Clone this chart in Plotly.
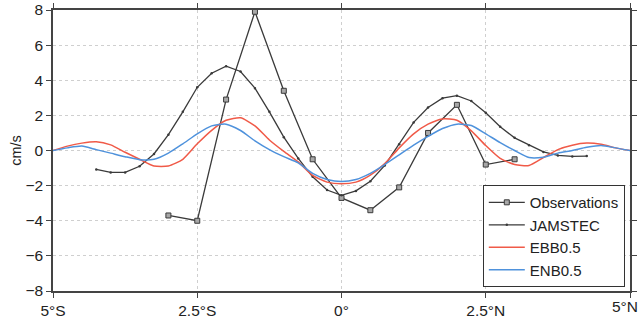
import plotly.graph_objects as go

# ---- data ----
obs_x = [-3.0, -2.5, -2.0, -1.5, -1.0, -0.5, 0.0, 0.5, 1.0, 1.5, 2.0, 2.5, 3.0]
obs_y = [-3.7, -4.0, 2.9, 7.9, 3.4, -0.5, -2.7, -3.4, -2.1, 1.0, 2.6, -0.8, -0.5]

jam_x = [-4.25, -4.0, -3.75, -3.5, -3.25, -3.0, -2.75, -2.5, -2.25, -2.0, -1.75, -1.5,
         -1.25, -1.0, -0.75, -0.5, -0.25, 0.0, 0.25, 0.5, 0.75, 1.0, 1.25, 1.5, 1.75,
         2.0, 2.25, 2.5, 2.75, 3.0, 3.25, 3.5, 3.75, 4.0, 4.25]
jam_y = [-1.08, -1.25, -1.25, -0.9, -0.2, 0.9, 2.2, 3.6, 4.4, 4.8, 4.5, 3.55,
         2.2, 0.76, -0.45, -1.5, -2.25, -2.55, -2.3, -1.75, -0.85, 0.35, 1.6, 2.45, 2.98,
         3.12, 2.82, 2.15, 1.35, 0.72, 0.3, -0.08, -0.28, -0.34, -0.32]

mod_x = [-5.0, -4.75, -4.5, -4.25, -4.0, -3.75, -3.5, -3.25, -3.0, -2.75, -2.5, -2.25,
         -2.0, -1.75, -1.5, -1.25, -1.0, -0.75, -0.5, -0.25, 0.0, 0.25, 0.5, 0.75, 1.0,
         1.25, 1.5, 1.75, 2.0, 2.25, 2.5, 2.75, 3.0, 3.25, 3.5, 3.75, 4.0, 4.25, 4.5,
         4.75, 5.0]
ebb_y = [0.0, 0.25, 0.42, 0.5, 0.32, -0.1, -0.5, -0.88, -0.88, -0.5, 0.38, 1.15,
         1.72, 1.86, 1.4, 0.6, -0.05, -0.65, -1.42, -1.8, -1.9, -1.8, -1.4, -0.75, 0.15,
         0.95, 1.5, 1.8, 1.72, 1.12, 0.28, -0.45, -0.8, -0.85, -0.4, 0.05, 0.3, 0.42, 0.35,
         0.15, 0.0]
enb_y = [0.0, 0.15, 0.25, 0.05, -0.15, -0.35, -0.52, -0.5, -0.15, 0.38, 0.95, 1.4,
         1.5, 1.14, 0.55, 0.05, -0.35, -0.7, -1.3, -1.65, -1.77, -1.65, -1.3, -0.8, -0.25,
         0.3, 0.8, 1.25, 1.5, 1.42, 0.95, 0.45, 0.0, -0.4, -0.38, -0.15, 0.0, 0.18, 0.28,
         0.15, 0.0]

x_ticks = [-5, -2.5, 0, 2.5, 5]
x_labels = ["5°S", "2.5°S", "0°", "2.5°N", "5°N"]
y_ticks = [-8, -6, -4, -2, 0, 2, 4, 6, 8]

font = "Liberation Sans, Arial, sans-serif"
dark = "#3a3a3a"
tick_size = 15.5

fig = go.Figure()
fig.add_trace(go.Scatter(x=obs_x, y=obs_y, name="Observations", mode="lines+markers",
                         line=dict(color=dark, width=1.3),
                         marker=dict(symbol="square", size=5, color="#a8a8a8",
                                     line=dict(color=dark, width=1))))
fig.add_trace(go.Scatter(x=jam_x, y=jam_y, name="JAMSTEC", mode="lines+markers",
                         line=dict(color=dark, width=1.3),
                         marker=dict(size=2.5, color=dark)))
fig.add_trace(go.Scatter(x=mod_x, y=ebb_y, name="EBB0.5", mode="lines",
                         line=dict(color="#f05a48", width=1.5, shape="spline", smoothing=0.6)))
fig.add_trace(go.Scatter(x=mod_x, y=enb_y, name="ENB0.5", mode="lines",
                         line=dict(color="#4f92dc", width=1.5, shape="spline", smoothing=0.6)))

axis_common = dict(showline=True, linecolor="#444", linewidth=1.5, mirror="ticks",
                   ticks="outside", ticklen=5, tickcolor="#444", tickwidth=1,
                   showgrid=True, gridcolor="#cfcfcf", griddash="dot", gridwidth=1,
                   zeroline=False, automargin=False,
                   tickfont=dict(family=font, size=tick_size, color="#222"))

# last x label is drawn as an annotation nudged left so it stays inside the page
shown_labels = x_labels[:-1] + [""]
fig.update_xaxes(range=[-5, 5], tickvals=x_ticks, ticktext=shown_labels, **axis_common)
fig.update_yaxes(range=[-8, 8], tickvals=y_ticks,
                 title=dict(text="cm/s", font=dict(family=font, size=14.5, color="#222"),
                            standoff=0),
                 **axis_common)
fig.add_annotation(x=x_ticks[-1], y=0, xref="x", yref="paper", text=x_labels[-1],
                   showarrow=False, xanchor="right", yanchor="top", xshift=10, yshift=-5,
                   font=dict(family=font, size=tick_size, color="#222"))

fig.update_layout(
    width=641, height=322,
    margin=dict(l=53, r=11, t=10, b=31),
    plot_bgcolor="white", paper_bgcolor="white",
    showlegend=True,
    legend=dict(x=0.991, y=0.014, xanchor="right", yanchor="bottom",
                bgcolor="white", bordercolor="#333", borderwidth=1,
                font=dict(family=font, size=15, color="#222"),
                tracegroupgap=0, itemwidth=36),
    font=dict(family=font),
)

fig.write_html("out.html")
